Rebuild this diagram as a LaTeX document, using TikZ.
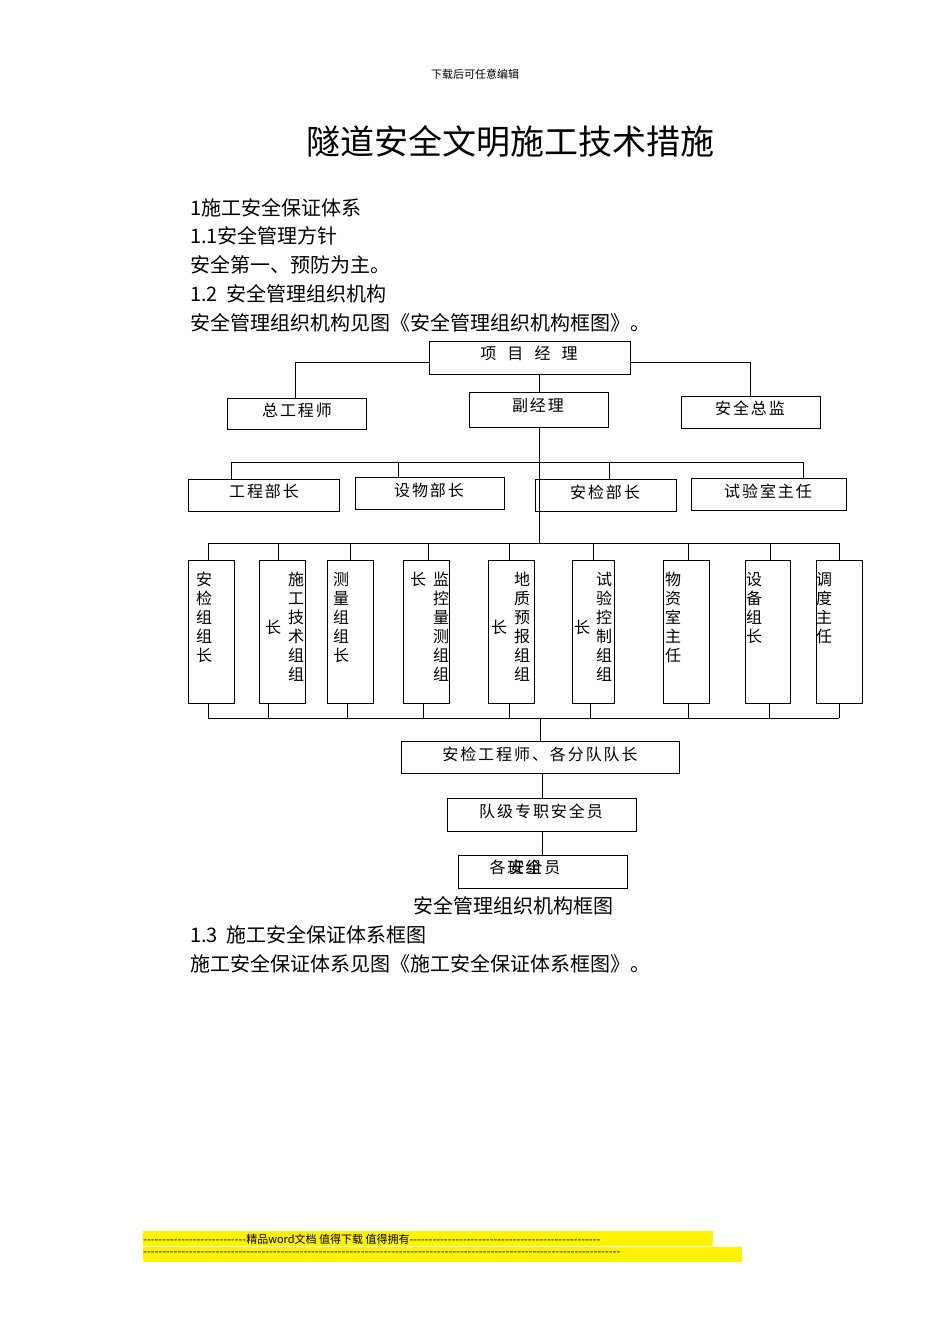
\documentclass[tikz,border=0pt]{standalone}
\usepackage{fontspec}
\setmainfont{Noto Sans CJK SC}
\newfontfamily\spc[LetterSpace=12]{Noto Sans CJK SC}
\newcommand\mydashes[1]{\foreach\i in {1,...,#1}{-}}
\begin{document}
\begin{tikzpicture}[x=1pt,y=-1pt,
 bx/.style={draw,line width=0.9pt,inner sep=0pt},
 ln/.style={line width=0.9pt},
 bt/.style={font=\spc\fontsize{16}{18}\selectfont,anchor=center},
 vt/.style={font=\fontsize{16}{19}\selectfont,align=center,anchor=north,inner sep=0pt},
 para/.style={font=\fontsize{20}{22}\selectfont,anchor=west,inner sep=0pt}]
\useasboundingbox (0,0) rectangle (950,1344);
\node[font=\fontsize{11}{12}\selectfont] (hd) at (475,74) {下载后可任意编辑};
\node[font=\fontsize{34}{38}\selectfont] (title) at (510,142) {隧道安全文明施工技术措施};
\node[para] (p1) at (190,208) {1施工安全保证体系};
\node[para] (p2) at (190,236) {1.1安全管理方针};
\node[para] (p3) at (190,265) {安全第一、预防为主。};
\node[para] (p4) at (190,294) {1.2\ \ 安全管理组织机构};
\node[para] (p5) at (190,323) {安全管理组织机构见图《安全管理组织机构框图》。};
% level 1
\draw[bx] (429,341) rectangle (630,374);
\node[bt] (pm) at (529,353) {项\ \ 目\ \ 经\ \ 理};
\draw[ln] (295,362) -- (429,362) (630,362) -- (750,362);
\draw[ln] (295,362) -- (295,398) (750,362) -- (750,396) (539,374) -- (539,392);
\draw[bx] (227,398) rectangle (366,429); \node[bt] (zg) at (297,410) {总工程师};
\draw[bx] (469,392) rectangle (608,427); \node[bt] (fj) at (538,405) {副经理};
\draw[bx] (681,396) rectangle (820,428); \node[bt] (aq) at (750,408) {安全总监};
% level 2
\draw[ln] (539,427) -- (539,543);
\draw[ln] (231,462) -- (803,462);
\draw[ln] (231,462) -- (231,479) (398,462) -- (398,477) (609,462) -- (609,479) (803,462) -- (803,478);
\draw[bx] (188,479) rectangle (339,511); \node[bt] (gc) at (264,491) {工程部长};
\draw[bx] (355,477) rectangle (504,509); \node[bt] (sw) at (429,490) {设物部长};
\draw[bx] (535,479) rectangle (676,511); \node[bt] (aj) at (605,492) {安检部长};
\draw[bx] (691,478) rectangle (846,510); \node[bt] (sy) at (768,491) {试验室主任};
% level 3
\draw[ln] (208,543) -- (839,543);
\foreach \x in {208,278,350,428,509,593,688,770,839} \draw[ln] (\x,543) -- (\x,560);
\draw[ln] (208,718) -- (839,718);
\foreach \x in {208,268,347,423,509,590,688,769,839} \draw[ln] (\x,703) -- (\x,718);
\foreach \a/\b in {188/234,259/305,327/373,403/449,488/534,572/614,663/709,745/790,816/862}
  \draw[bx] (\a,560) rectangle (\b,703);
\node[vt] (c1) at (204,572) {安\\检\\组\\组\\长};
\node[vt] (c2a) at (296,572) {施\\工\\技\\术\\组\\组};
\node[vt] (c2b) at (273,620) {长};
\node[vt] (c3) at (341,572) {测\\量\\组\\组\\长};
\node[vt] (c4a) at (441,572) {监\\控\\量\\测\\组\\组};
\node[vt] (c4b) at (418,572) {长};
\node[vt] (c5a) at (522,572) {地\\质\\预\\报\\组\\组};
\node[vt] (c5b) at (499,620) {长};
\node[vt] (c6a) at (604,572) {试\\验\\控\\制\\组\\组};
\node[vt] (c6b) at (582,620) {长};
\node[vt] (c7) at (673,572) {物\\资\\室\\主\\任};
\node[vt] (c8) at (754,572) {设\\备\\组\\长};
\node[vt] (c9) at (824,572) {调\\度\\主\\任};
% lower chain
\draw[ln] (540,718) -- (540,741);
\draw[bx] (401,741) rectangle (679,773); \node[bt] (e1) at (540,754) {安检工程师、各分队队长};
\draw[ln] (542,773) -- (542,798);
\draw[bx] (447,798) rectangle (636,831); \node[bt] (e2) at (541,811) {队级专职安全员};
\draw[ln] (542,831) -- (542,855);
\draw[bx] (458,855) rectangle (627,888);
\node[bt,anchor=west] (e3a) at (486,867) {各班组};
\node[bt,anchor=west] (e3b) at (505,867) {安全员};
\node[font=\fontsize{20}{22}\selectfont] (cap) at (513,906) {安全管理组织机构框图};
\node[para] (p6) at (190,935) {1.3\ \ 施工安全保证体系框图};
\node[para] (p7) at (190,964) {施工安全保证体系见图《施工安全保证体系框图》。};
% footer
\fill[yellow] (143,1231) rectangle (713,1246);
\fill[yellow] (143,1247) rectangle (742,1262);
\node[font=\fontsize{11}{12}\selectfont,anchor=west,inner sep=0pt] (f1) at (143,1239) {\mydashes{27}精品word文档 值得下载 值得拥有\mydashes{50}};
\node[font=\fontsize{11}{12}\selectfont,anchor=west,inner sep=0pt] (f2) at (143,1254) {\mydashes{125}};
\end{tikzpicture}
\end{document}
